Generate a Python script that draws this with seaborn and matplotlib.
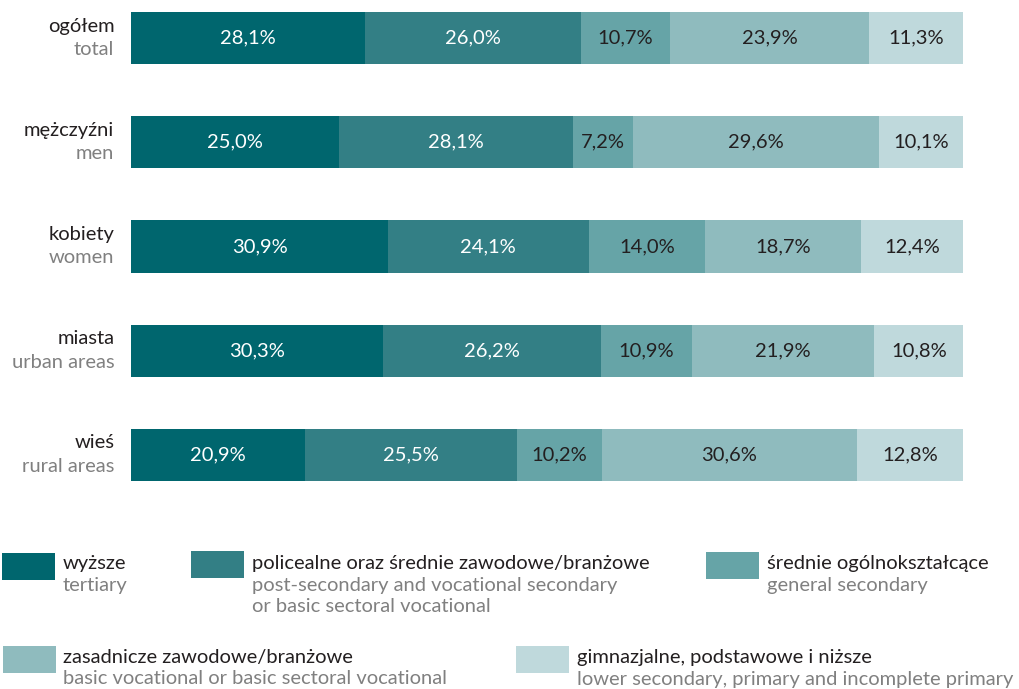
import numpy as np
import pandas as pd
import matplotlib
matplotlib.use("Agg")
import matplotlib.pyplot as plt
from matplotlib.patches import Rectangle
import seaborn as sns

# ---- data ----
categories_pl = ["ogółem", "mężczyźni", "kobiety", "miasta", "wieś"]
categories_en = ["total", "men", "women", "urban areas", "rural areas"]
tertiary = [28.1, 25.0, 30.9, 30.3, 20.9]
post_secondary = [26.0, 28.1, 24.1, 26.2, 25.5]
general_secondary = [10.7, 7.2, 14.0, 10.9, 10.2]
basic_vocational = [23.9, 29.6, 18.7, 21.9, 30.6]
lower_secondary = [11.3, 10.1, 12.4, 10.8, 12.8]

series_pl = ["wyższe", "policealne oraz średnie zawodowe/branżowe",
             "średnie ogólnokształcące", "zasadnicze zawodowe/branżowe",
             "gimnazjalne, podstawowe i niższe"]
series_en = [["tertiary"],
             ["post-secondary and vocational secondary", "or basic sectoral vocational"],
             ["general secondary"],
             ["basic vocational or basic sectoral vocational"],
             ["lower secondary, primary and incomplete primary"]]
colors = ["#00666e", "#337f85", "#66a4a7", "#8fbbbe", "#bfd9dc"]
label_colors = ["white", "white", "#231f20", "#231f20", "#231f20"]

series_vals = [tertiary, post_secondary, general_secondary, basic_vocational, lower_secondary]

sns.set_theme(style="white")
plt.rcParams['font.family'] = ['Lato', 'DejaVu Sans']

W, H = 1020, 689
FS = 14.5
fig = plt.figure(figsize=(W / 100, H / 100), dpi=100)

def fx(px):
    return px / W

def fy(py):
    return 1 - py / H

ax = fig.add_axes([fx(131), fy(481), fx(963) - fx(131), fy(12) - fy(481)])

vals = np.array(series_vals)
cum = np.cumsum(vals, axis=0)
starts = cum - vals

# draw cumulative layers from the outermost to the innermost
for i in range(len(series_vals) - 1, -1, -1):
    df = pd.DataFrame({"cat": categories_pl, "v": cum[i]})
    sns.barplot(data=df, x="v", y="cat", order=categories_pl, color=colors[i],
                saturation=1, width=0.5, orient="h", ax=ax, linewidth=0)

ax.set_xlim(0, 100)
ax.set_ylim(len(categories_pl) - 0.75, -0.25)
ax.axis("off")

for i in range(len(series_vals)):
    for j in range(len(categories_pl)):
        v = vals[i, j]
        cx = starts[i, j] + v / 2
        ax.text(cx, j, f"{v:.1f}%".replace(".", ","), ha="center", va="center",
                color=label_colors[i], fontsize=FS)

# category labels
for j, (pl, en) in enumerate(zip(categories_pl, categories_en)):
    ax.text(-0.02, j - 0.115, pl, transform=ax.get_yaxis_transform(), ha="right",
            va="center", color="#231f20", fontsize=FS)
    ax.text(-0.02, j + 0.11, en, transform=ax.get_yaxis_transform(), ha="right",
            va="center", color="#808080", fontsize=FS)

# legend: (patch x, patch top y, text x, first text line y)
legend_pos = [(2, 553, 63, 563), (191, 551, 252, 563), (706, 552, 767, 563),
              (3, 646, 63, 657), (516, 646, 577, 657)]
for i, (px, py, tx, ty) in enumerate(legend_pos):
    fig.patches.append(Rectangle((fx(px), fy(py + 27)), fx(53), 27 / H,
                                 transform=fig.transFigure, color=colors[i], lw=0))
    fig.text(fx(tx), fy(ty), series_pl[i], ha="left", va="center",
             color="#231f20", fontsize=FS)
    for k, line in enumerate(series_en[i]):
        fig.text(fx(tx), fy(ty + 22 * (k + 1)), line, ha="left", va="center",
                 color="#808080", fontsize=FS)

fig.savefig("out.png", dpi=100)
